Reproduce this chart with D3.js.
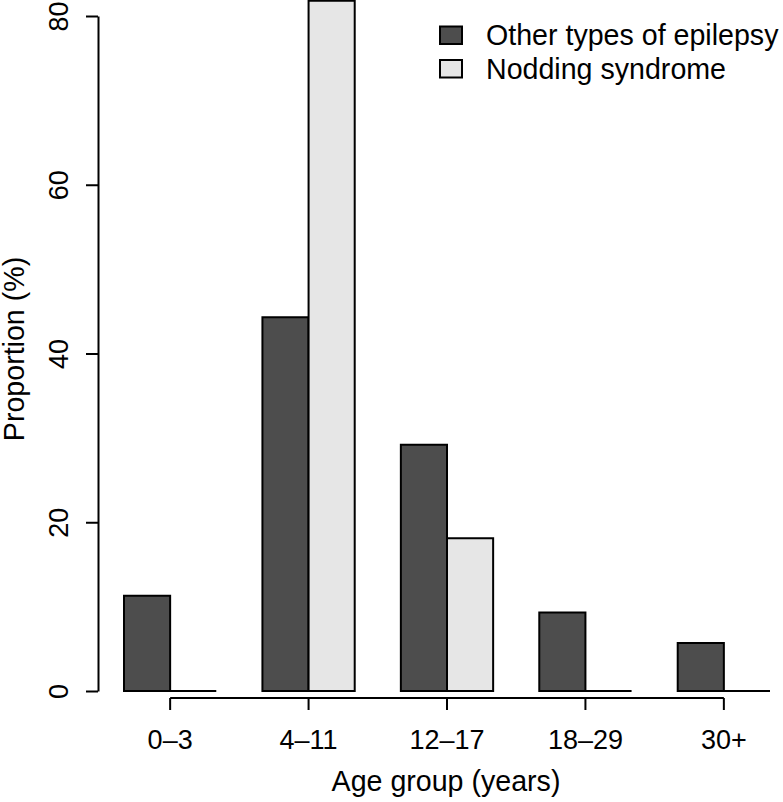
<!DOCTYPE html>
<html>
<head>
<meta charset="utf-8">
<script src="https://cdn.jsdelivr.net/npm/d3@7"></script>
<style>
  html, body { margin: 0; padding: 0; background: #fff; }
  svg { display: block; font-family: "Liberation Sans", Arial, Helvetica, sans-serif; }
</style>
</head>
<body>
<svg id="chart" width="783" height="802"></svg>
<script>
// ---- data ----
const categories = ["0–3", "4–11", "12–17", "18–29", "30+"];
const seriesNames = ["Other types of epilepsy", "Nodding syndrome"];
const otherEpilepsy = [11.3, 44.3, 29.2, 9.3, 5.7];
const noddingSyndrome = [0, 81.8, 18.1, 0, 0];
const yTicks = [0, 20, 40, 60, 80];
const seriesColors = ["#4d4d4d", "#e6e6e6"];

const seriesValues = [otherEpilepsy, noddingSyndrome];

const svg = d3.select("#chart");
const numSize = 27;
const wordSize = 28.6;

const x0 = d3.scaleBand().domain(categories).range([124, 770]).paddingInner(1/3).paddingOuter(0);
const x1 = d3.scaleBand().domain(d3.range(seriesNames.length)).range([0, x0.bandwidth()]).padding(0);
const y = d3.scaleLinear().domain([0, 80]).range([691, 16]);

// bars
const groups = svg.append("g").selectAll("g")
  .data(categories)
  .join("g")
  .attr("transform", d => `translate(${x0(d)},0)`);

groups.selectAll("path")
  .data((c, ci) => seriesValues.map((vals, si) => ({ si, v: vals[ci] })))
  .join("path")
  .attr("d", d => {
    const xa = x1(d.si), xb = x1(d.si) + x1.bandwidth();
    const ya = y(0), yb = y(d.v);
    return `M${xa},${ya}H${xb}V${yb}H${xa}Z`;
  })
  .attr("fill", d => seriesColors[d.si])
  .attr("stroke", "#000")
  .attr("stroke-width", 2)
  .attr("stroke-linejoin", "miter");

// y axis
const yAxis = svg.append("g")
  .attr("transform", "translate(98,0)")
  .call(d3.axisLeft(y).tickValues(yTicks).tickSize(12).tickSizeOuter(0).tickFormat(d3.format("d")));
yAxis.select(".domain").attr("stroke-width", 2);
yAxis.selectAll(".tick line").attr("stroke-width", 2);
yAxis.selectAll(".tick text")
  .attr("transform", "rotate(-90)")
  .attr("x", 0).attr("y", -30).attr("dy", 0)
  .attr("text-anchor", "middle")
  .attr("fill", "#000")
  .style("font-size", numSize + "px")
  .style("font-family", "'Liberation Sans', Arial, sans-serif");

// x axis
const xAxisY = 698;
const xAxis = svg.append("g")
  .attr("transform", `translate(0,${xAxisY})`)
  .call(d3.axisBottom(x0).tickSize(12).tickSizeOuter(0).tickPadding(10));
xAxis.select(".domain").remove();
const cx = c => x0(c) + x0.bandwidth() / 2;
xAxis.append("line")
  .attr("x1", cx(categories[0])).attr("x2", cx(categories[categories.length - 1]))
  .attr("y1", 0).attr("y2", 0)
  .attr("stroke", "#000").attr("stroke-width", 2);
xAxis.selectAll(".tick line").attr("stroke-width", 2);
xAxis.selectAll(".tick text")
  .attr("y", 51).attr("dy", 0)
  .attr("fill", "#000")
  .style("font-size", numSize + "px")
  .style("font-family", "'Liberation Sans', Arial, sans-serif");

// axis titles
svg.append("text")
  .attr("x", 446).attr("y", 791)
  .attr("text-anchor", "middle")
  .style("font-size", wordSize + "px")
  .text("Age group (years)");

svg.append("text")
  .attr("transform", "translate(24,349) rotate(-90)")
  .attr("text-anchor", "middle")
  .style("font-size", wordSize + "px")
  .text("Proportion (%)");

// legend
const legend = svg.append("g").selectAll("g")
  .data(seriesNames)
  .join("g")
  .attr("transform", (d, i) => `translate(440,${26.5 + i * 33.5})`);
legend.append("rect")
  .attr("width", 22).attr("height", 17.5)
  .attr("fill", (d, i) => seriesColors[i])
  .attr("stroke", "#000").attr("stroke-width", 2);
legend.append("text")
  .attr("x", 46).attr("y", 18.5)
  .style("font-size", wordSize + "px")
  .text(d => d);
</script>
</body>
</html>
